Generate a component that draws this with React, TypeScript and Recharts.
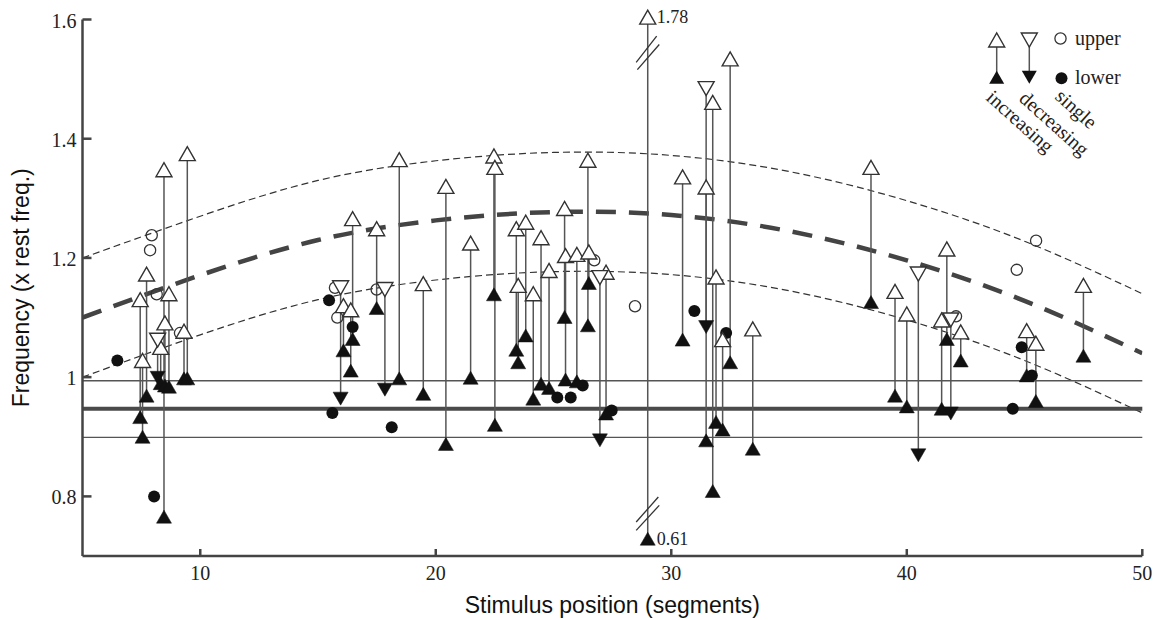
import React from 'react';
import { ComposedChart, XAxis, YAxis, Scatter, Line, ReferenceLine, ReferenceDot } from 'recharts';

// ---------- data ----------
// increasing responses: open up-triangle (upper) linked to filled up-triangle (lower)
const incX = [7.45, 7.55, 7.72, 8.32, 8.46, 8.50, 8.67, 9.31, 9.45, 16.08, 16.39, 16.47, 17.49, 18.45, 19.47, 20.43, 21.48, 22.47, 22.51, 23.42, 23.50, 23.82, 24.14, 24.47, 24.81, 25.47, 25.51, 25.99, 26.46, 26.50, 27.23, 30.48, 31.48, 31.76, 31.90, 32.18, 32.50, 33.46, 38.48, 39.50, 40.00, 41.48, 41.70, 42.29, 45.09, 45.48, 47.50];
const incUpper = [1.130, 1.028, 1.173, 1.050, 1.348, 1.091, 1.140, 1.077, 1.375, 1.120, 1.113, 1.266, 1.249, 1.365, 1.157, 1.320, 1.225, 1.371, 1.352, 1.249, 1.154, 1.260, 1.140, 1.234, 1.179, 1.283, 1.204, 1.206, 1.364, 1.210, 1.176, 1.336, 1.319, 1.461, 1.168, 1.063, 1.534, 1.081, 1.352, 1.144, 1.106, 1.096, 1.215, 1.076, 1.078, 1.057, 1.154];
const incLower = [0.933, 0.900, 0.969, 0.990, 0.766, 0.986, 0.984, 0.998, 0.998, 1.045, 1.011, 1.064, 1.116, 0.998, 0.972, 0.888, 0.999, 1.139, 0.920, 1.046, 1.025, 1.070, 0.964, 0.989, 0.982, 1.101, 0.996, 0.993, 1.087, 1.158, 0.939, 1.063, 0.894, 0.809, 0.925, 0.912, 1.025, 0.880, 1.126, 0.969, 0.951, 0.947, 1.064, 1.028, 1.003, 0.960, 1.036];

// decreasing responses: open down-triangle (upper) linked to filled down-triangle (lower)
const decX = [8.19, 15.96, 17.84, 26.97, 31.48, 40.49, 41.87];
const decUpper = [1.062, 1.150, 1.147, 1.167, 1.484, 1.173, 1.096];
const decLower = [0.999, 0.964, 0.979, 0.894, 1.084, 0.869, 0.939];

// single responses
const singleUpperX = [7.87, 7.94, 8.15, 9.14, 15.72, 15.82, 17.49, 26.73, 28.46, 42.09, 44.67, 45.49];
const singleUpperY = [1.213, 1.238, 1.139, 1.074, 1.150, 1.100, 1.147, 1.196, 1.119, 1.102, 1.180, 1.229];
const singleLowerX = [6.48, 8.04, 15.47, 15.61, 16.47, 18.13, 25.16, 25.73, 26.24, 27.47, 30.98, 32.33, 44.50, 44.88, 45.31];
const singleLowerY = [1.028, 0.800, 1.129, 0.940, 1.084, 0.916, 0.966, 0.966, 0.986, 0.944, 1.111, 1.074, 0.947, 1.050, 1.003];

// off-scale increasing response (axis break): true values and where they are drawn
const brokenX = 29.0;
const brokenUpper = 1.78;
const brokenLower = 0.61;
const brokenUpperShown = 1.604;
const brokenLowerShown = 0.729;

// fitted curves (dashed), read at every 5 segments
const curveX = [5, 10, 15, 20, 25, 30, 35, 40, 45, 50];
const curveMid = [1.100, 1.171, 1.230, 1.263, 1.277, 1.272, 1.245, 1.196, 1.128, 1.040];
const curveHigh = [1.200, 1.270, 1.330, 1.363, 1.377, 1.372, 1.345, 1.296, 1.228, 1.140];
const curveLow = [1.000, 1.071, 1.130, 1.163, 1.177, 1.172, 1.145, 1.096, 1.028, 0.940];

// horizontal reference levels
const restMean = 0.947;
const restBand = [0.994, 0.899];

const xTicks = [10, 20, 30, 40, 50];
const yTicks = [0.8, 1, 1.2, 1.4, 1.6];

// ---------- styling ----------
const EDGE = '#333';
const INK = '#111';
const STEM = '#555';
const AXIS = '#444';
const SERIF = '"Liberation Serif", "Times New Roman", serif';
const SANS = '"Liberation Sans", Arial, sans-serif';

const triPath = (cx: number, cy: number, w: number, h: number, up: boolean) => {
  const hw = w / 2, hh = h / 2;
  return up
    ? `M${cx - hw},${cy + hh} L${cx + hw},${cy + hh} L${cx},${cy - hh} Z`
    : `M${cx - hw},${cy - hh} L${cx + hw},${cy - hh} L${cx},${cy + hh} Z`;
};

const OpenUp = (p: any) => p.cx == null ? null : <path d={triPath(p.cx, p.cy, 16, 14, true)} fill="#fff" stroke={EDGE} strokeWidth={1.4} />;
const FilledUp = (p: any) => p.cx == null ? null : <path d={triPath(p.cx, p.cy, 15, 13, true)} fill={INK} stroke={INK} strokeWidth={0.5} />;
const OpenDown = (p: any) => p.cx == null ? null : <path d={triPath(p.cx, p.cy, 16, 14, false)} fill="#fff" stroke={EDGE} strokeWidth={1.4} />;
const FilledDown = (p: any) => p.cx == null ? null : <path d={triPath(p.cx, p.cy, 15, 13, false)} fill={INK} stroke={INK} strokeWidth={0.5} />;
const OpenCircle = (p: any) => p.cx == null ? null : <circle cx={p.cx} cy={p.cy} r={5.6} fill="none" stroke={EDGE} strokeWidth={1.3} />;
const FilledCircle = (p: any) => p.cx == null ? null : <circle cx={p.cx} cy={p.cy} r={6} fill={INK} />;

const pts = (xs: number[], ys: number[]) => xs.map((x, i) => ({ x, y: ys[i] }));

const incUpperData = pts(incX, incUpper);
const incLowerData = pts(incX, incLower);
const decUpperData = pts(decX, decUpper);
const decLowerData = pts(decX, decLower);
const sUpperData = pts(singleUpperX, singleUpperY);
const sLowerData = pts(singleLowerX, singleLowerY);
const midData = pts(curveX, curveMid);
const highData = pts(curveX, curveHigh);
const lowData = pts(curveX, curveLow);

const BrokenTop = (p: any) => (
  <g>
    <path d={triPath(p.cx, p.cy, 16, 14, true)} fill="#fff" stroke={EDGE} strokeWidth={1.4} />
    <text x={p.cx + 9} y={p.cy} dominantBaseline="central" fontFamily={SERIF} fontSize={18} fill="#222">{String(brokenUpper)}</text>
  </g>
);
const BrokenBottom = (p: any) => (
  <g>
    <path d={triPath(p.cx, p.cy, 15, 13, true)} fill={INK} stroke={INK} strokeWidth={0.5} />
    <text x={p.cx + 9} y={p.cy} dominantBaseline="central" fontFamily={SERIF} fontSize={18} fill="#222">{String(brokenLower)}</text>
  </g>
);

// break marks: pairs of short slanted strokes across the stem (offsets in data units)
const breakTop = [
  [[brokenX - 0.49, 1.528], [brokenX + 0.38, 1.572]],
  [[brokenX - 0.44, 1.516], [brokenX + 0.49, 1.558]],
];
const breakBottom = [
  [[brokenX - 0.49, 0.757], [brokenX + 0.45, 0.799]],
  [[brokenX - 0.49, 0.743], [brokenX + 0.49, 0.785]],
];

const YTick = (p: any) => (
  <text x={p.x} y={p.y + 1} textAnchor="end" dominantBaseline="central" fontFamily={SERIF} fontSize={20} fill="#222">
    {String(p.payload.value)}
  </text>
);
const XTick = (p: any) => (
  <text x={p.x} y={p.y} dy="0.71em" textAnchor="middle" fontFamily={SERIF} fontSize={20} fill="#222">
    {String(p.payload.value)}
  </text>
);

const YTitle = (props: any) => {
  const vb = props.viewBox || { x: 0, y: 0, width: 0, height: 0 };
  const cx = vb.x + 21;
  const cy = vb.y + vb.height / 2;
  return (
    <text x={cx} y={cy} transform={`rotate(-90 ${cx} ${cy})`} textAnchor="middle" dominantBaseline="central"
      fontFamily={SANS} fontSize={23} fill="#111">Frequency (x rest freq.)</text>
  );
};
const XTitle = (props: any) => {
  const vb = props.viewBox || { x: 0, y: 0, width: 0, height: 0 };
  const cx = vb.x + vb.width / 2;
  const cy = vb.y + 49;
  return (
    <text x={cx} y={cy} textAnchor="middle" dominantBaseline="central" fontFamily={SANS} fontSize={23} fill="#111">
      Stimulus position (segments)
    </text>
  );
};

const LegendOverlay = () => (
  <svg width={1157} height={620} style={{ position: 'absolute', left: 0, top: 0, pointerEvents: 'none' }}>
    <line x1={996.7} y1={44} x2={996.7} y2={74} stroke={STEM} strokeWidth={1.5} />
    <path d={triPath(996.7, 40, 16, 14, true)} fill="#fff" stroke={EDGE} strokeWidth={1.4} />
    <path d={triPath(996.7, 77.3, 15, 13, true)} fill={INK} />
    <line x1={1029.3} y1={40} x2={1029.3} y2={74} stroke={STEM} strokeWidth={1.5} />
    <path d={triPath(1029.3, 40, 16, 14, false)} fill="#fff" stroke={EDGE} strokeWidth={1.4} />
    <path d={triPath(1029.3, 77.3, 15, 13, false)} fill={INK} />
    <circle cx={1060.5} cy={38.5} r={5.6} fill="none" stroke={EDGE} strokeWidth={1.3} />
    <text x={1075} y={45} fontFamily={SERIF} fontSize={20} fill="#222">upper</text>
    <circle cx={1061.5} cy={78.3} r={6} fill={INK} />
    <text x={1075} y={84} fontFamily={SERIF} fontSize={20} fill="#222">lower</text>
    <text x={985} y={99} transform="rotate(42 985 99)" fontFamily={SERIF} fontSize={20} fill="#222">increasing</text>
    <text x={1018} y={100} transform="rotate(42 1018 100)" fontFamily={SERIF} fontSize={20} fill="#222">decreasing</text>
    <text x={1054} y={98} transform="rotate(42 1054 98)" fontFamily={SERIF} fontSize={20} fill="#222">single</text>
  </svg>
);

export default function App() {
  return (
    <div style={{ position: 'absolute', left: 0, top: 0, width: 1157, height: 620, background: '#fff' }}>
      <ComposedChart width={1157} height={620} margin={{ top: 19.5, right: 14.7, bottom: 0, left: 0 }}>
        <XAxis
          type="number"
          dataKey="x"
          domain={[5, 50]}
          allowDataOverflow
          ticks={xTicks}
          height={64}
          tickSize={-7}
          tickMargin={17}
          axisLine={{ stroke: AXIS, strokeWidth: 2.5 }}
          tickLine={{ stroke: AXIS, strokeWidth: 2.5 }}
          tick={XTick}
          label={{ content: XTitle }}
        />
        <YAxis
          type="number"
          dataKey="y"
          domain={[0.7, 1.6]}
          allowDataOverflow
          ticks={yTicks}
          width={82.5}
          tickSize={-9}
          tickMargin={15}
          axisLine={{ stroke: AXIS, strokeWidth: 2.5 }}
          tickLine={{ stroke: AXIS, strokeWidth: 2.5 }}
          tick={YTick}
          label={{ content: YTitle }}
        />

        <Line data={highData} dataKey="y" type="natural" dot={false} stroke="#333" strokeWidth={1.2} strokeDasharray="7 4" isAnimationActive={false} />
        <Line data={lowData} dataKey="y" type="natural" dot={false} stroke="#333" strokeWidth={1.2} strokeDasharray="7 4" isAnimationActive={false} />
        <Line data={midData} dataKey="y" type="natural" dot={false} stroke="#444" strokeWidth={4.5} strokeDasharray="20 13" isAnimationActive={false} />

        <ReferenceLine y={restMean} stroke="#4a4a4a" strokeWidth={4} />
        {restBand.map((v, i) => (
          <ReferenceLine key={'band' + i} y={v} stroke={STEM} strokeWidth={1.3} />
        ))}

        {incX.map((x, i) => (
          <ReferenceLine key={'is' + i} segment={[{ x, y: incUpper[i] }, { x, y: incLower[i] }]} stroke={STEM} strokeWidth={1.5} ifOverflow="visible" />
        ))}
        {decX.map((x, i) => (
          <ReferenceLine key={'ds' + i} segment={[{ x, y: decUpper[i] }, { x, y: decLower[i] }]} stroke={STEM} strokeWidth={1.5} ifOverflow="visible" />
        ))}
        <ReferenceLine segment={[{ x: brokenX, y: brokenUpperShown }, { x: brokenX, y: brokenLowerShown }]} stroke={STEM} strokeWidth={1.5} ifOverflow="visible" />
        {[...breakTop, ...breakBottom].map((s, i) => (
          <ReferenceLine key={'br' + i} segment={[{ x: s[0][0], y: s[0][1] }, { x: s[1][0], y: s[1][1] }]} stroke="#333" strokeWidth={1.3} ifOverflow="visible" />
        ))}

        <Scatter data={sUpperData} shape={OpenCircle} isAnimationActive={false} />
        <Scatter data={sLowerData} shape={FilledCircle} isAnimationActive={false} />
        <Scatter data={incLowerData} shape={FilledUp} isAnimationActive={false} />
        <Scatter data={decLowerData} shape={FilledDown} isAnimationActive={false} />
        <Scatter data={incUpperData} shape={OpenUp} isAnimationActive={false} />
        <Scatter data={decUpperData} shape={OpenDown} isAnimationActive={false} />

        <ReferenceDot x={brokenX} y={brokenUpperShown} ifOverflow="visible" shape={BrokenTop} />
        <ReferenceDot x={brokenX} y={brokenLowerShown} ifOverflow="visible" shape={BrokenBottom} />
      </ComposedChart>
      <LegendOverlay />
    </div>
  );
}
